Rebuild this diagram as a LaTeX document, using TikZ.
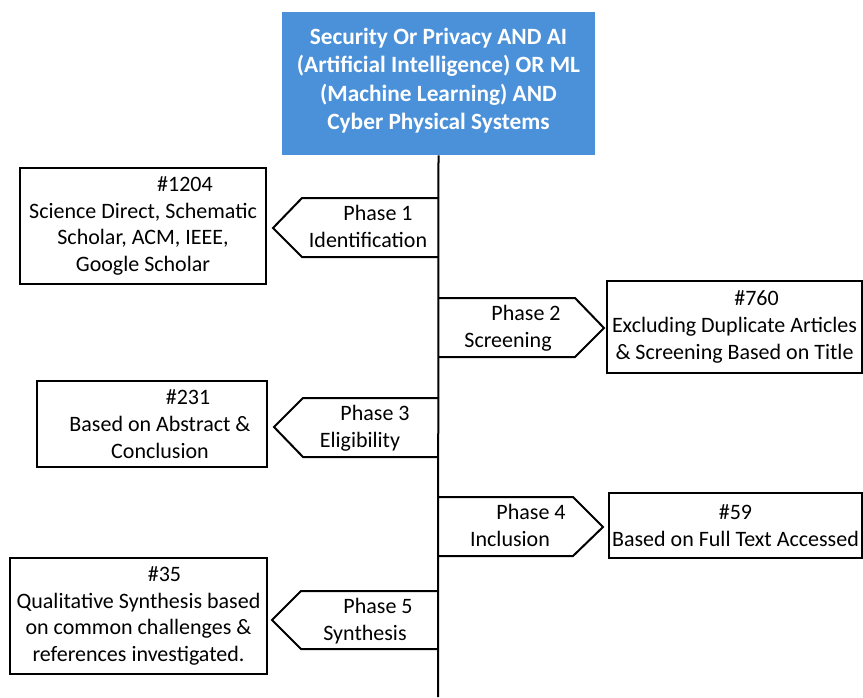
\documentclass[tikz,border=0pt]{standalone}
\usepackage{fontspec}
\setmainfont{Carlito}
\definecolor{titleblue}{RGB}{74,145,218}
\begin{document}
\begin{tikzpicture}[x=0.75pt,y=-0.75pt,
  lw/.style={line width=1.5pt},
  bodyfont/.style={font=\fontsize{16.5}{20}\selectfont},
  infobox/.style={lw, draw=black, fill=white, inner sep=0pt, align=center, bodyfont},
  phasebox/.style={lw, draw=black, fill=white, line join=miter},
  ptxt/.style={inner sep=0pt, bodyfont, text height=11pt, text depth=0pt},
  titlebox/.style={fill=titleblue, text=white, inner sep=0pt, align=center,
     font=\fontsize{17.5}{21.4}\selectfont\bfseries}]
\useasboundingbox (0,0) rectangle (863,697);

% title
\node[titlebox, minimum width=313*0.75pt, minimum height=143*0.75pt] (title) at (438.5,83.5) {};
\node[titlebox, fill=none] (titletext) at (438.5,80.5)
  {Security Or Privacy AND AI\\(Artificial Intelligence) OR ML\\(Machine Learning) AND\\Cyber Physical Systems};

% phase shapes
\draw[phasebox] (438,198) -- (302,198) -- (273,228) -- (302,257) -- (438,257);
\draw[phasebox] (438,298) -- (575,298) -- (604,328) -- (575,357) -- (438,357);
\draw[phasebox] (438,398) -- (303,398) -- (274,427) -- (303,457) -- (438,457);
\draw[phasebox] (438,497) -- (573,497) -- (603,527) -- (573,556) -- (438,556);
\draw[phasebox] (438,591) -- (301,591) -- (272,620) -- (301,649) -- (438,649);

% spine
\coordinate (bottom) at (438,697);
\draw[lw] (title.south) -- (bottom);

% phase texts
\node[ptxt] (p1a) at (378,213) {Phase 1};
\node[ptxt] (p1b) at (368,240) {Identification};
\node[ptxt] (p2a) at (526,313) {Phase 2};
\node[ptxt] (p2b) at (508,340) {Screening};
\node[ptxt] (p3a) at (375,413) {Phase 3};
\node[ptxt] (p3b) at (360,440) {Eligibility};
\node[ptxt] (p4a) at (531,512) {Phase 4};
\node[ptxt] (p4b) at (510,539) {Inclusion};
\node[ptxt] (p5a) at (378,606) {Phase 5};
\node[ptxt] (p5b) at (365,633) {Synthesis};

% result boxes
\node[infobox, minimum width=246*0.75pt, minimum height=116*0.75pt] (b1) at (143,226)
  {\hspace*{63pt}\#1204\\Science Direct, Schematic\\Scholar, ACM, IEEE,\\Google Scholar};
\node[infobox, minimum width=255*0.75pt, minimum height=92*0.75pt] (b2) at (734.5,327)
  {\hspace*{33pt}\#760\\Excluding Duplicate Articles\\\& Screening Based on Title};
\node[infobox, minimum width=230*0.75pt, minimum height=86*0.75pt] (b3) at (152,424)
  {\hspace*{54pt}\#231\\\hspace*{12pt}Based on Abstract \&\\\hspace*{12pt}Conclusion};
\node[infobox, minimum width=253*0.75pt, minimum height=65*0.75pt] (b4) at (735.5,525.5)
  {\#59\\Based on Full Text Accessed};
\node[infobox, minimum width=257*0.75pt, minimum height=116*0.75pt] (b5) at (138.5,616)
  {\hspace*{39pt}\#35\\Qualitative Synthesis based\\on common challenges \&\\references investigated.};
\end{tikzpicture}
\end{document}
